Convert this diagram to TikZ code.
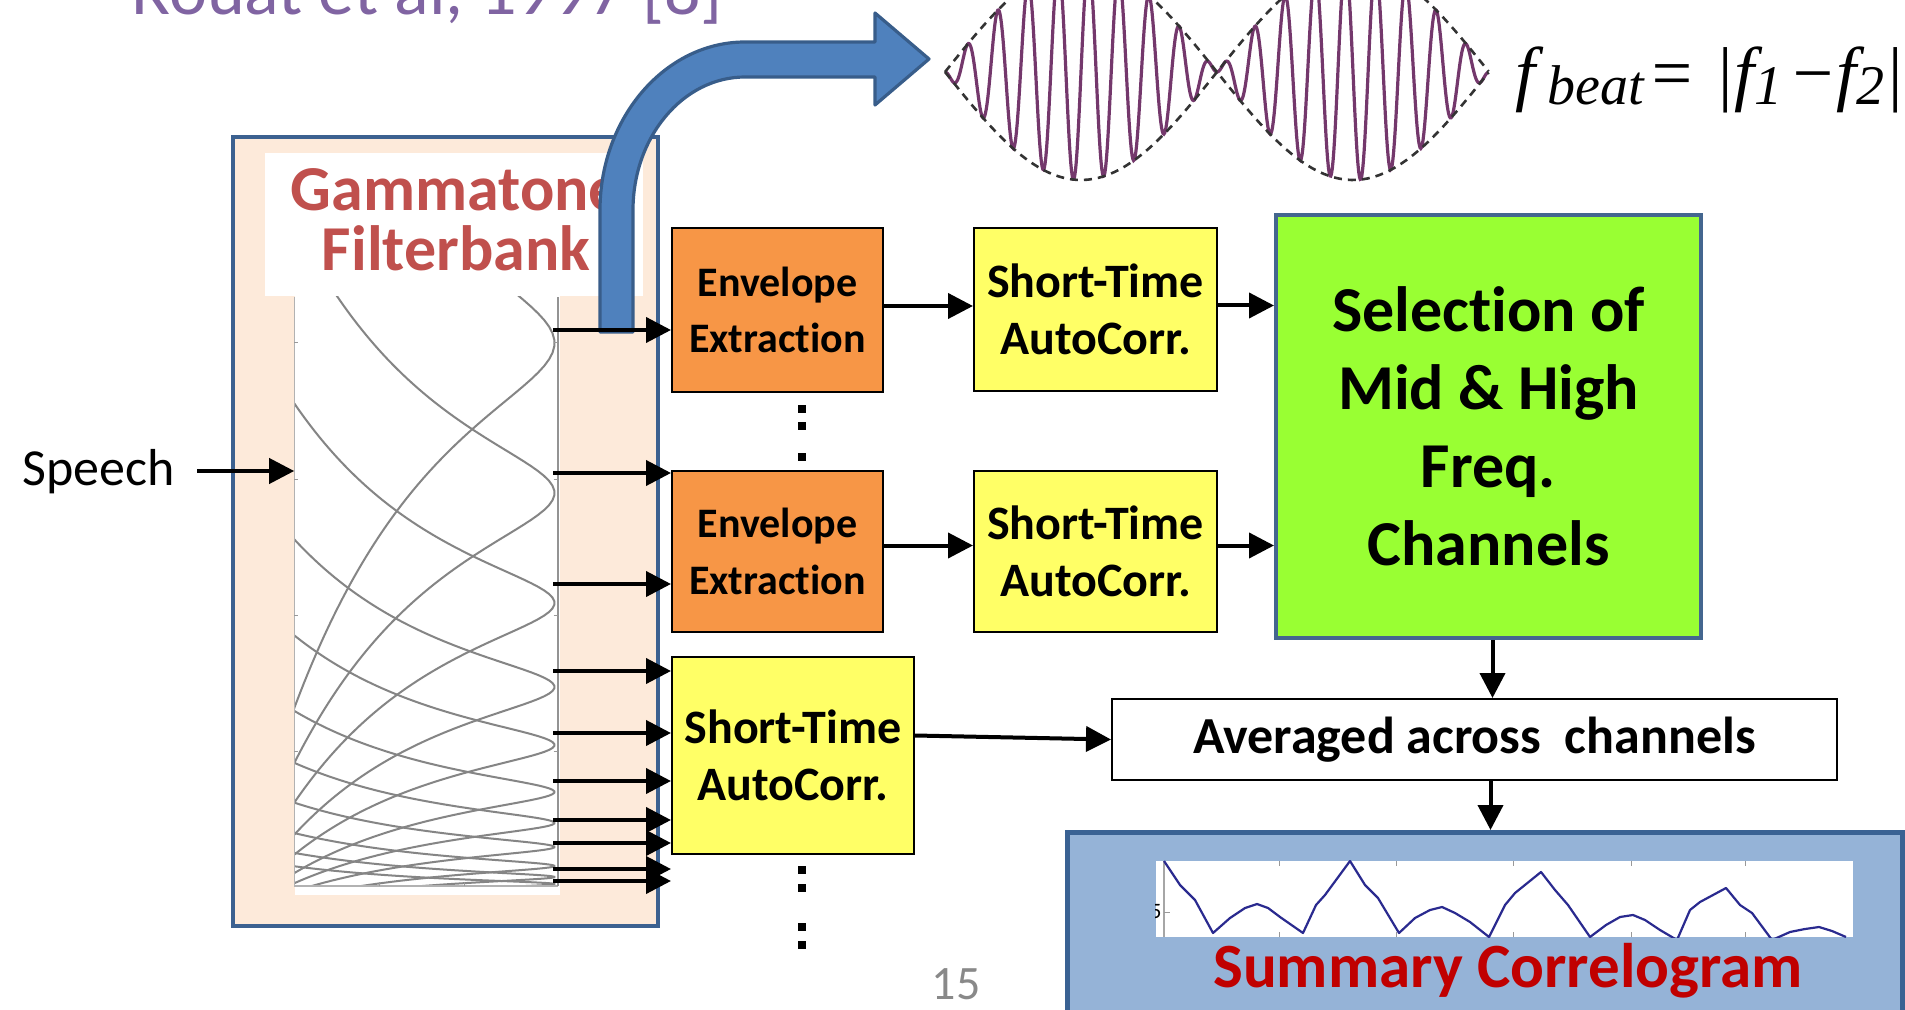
\documentclass[tikz,border=0pt]{standalone}
\usepackage{fontspec}
\setmainfont{Carlito}[Ligatures=NoCommon]
\newfontfamily\serifit{Liberation Serif}
\usetikzlibrary{arrows.meta,calc}

\definecolor{fbfill}{HTML}{FDEADA}
\definecolor{fbline}{HTML}{3C6190}
\definecolor{gammared}{HTML}{C0504D}
\definecolor{envorange}{HTML}{F79646}
\definecolor{styellow}{HTML}{FFFF66}
\definecolor{selgreen}{HTML}{99FF33}
\definecolor{selline}{HTML}{44668F}
\definecolor{sumfill}{HTML}{95B3D7}
\definecolor{sumline}{HTML}{3A6293}
\definecolor{sumred}{HTML}{C00000}
\definecolor{bigblue}{HTML}{4F81BD}
\definecolor{bigblueline}{HTML}{385D8A}
\definecolor{wavepurple}{HTML}{74386C}
\definecolor{titlepurple}{HTML}{8064A2}
\definecolor{corrblue}{HTML}{2A2A8F}
\definecolor{curvegray}{HTML}{858585}
\definecolor{pagegray}{HTML}{898989}

\begin{document}
\begin{tikzpicture}[x=0.5pt, y=-0.5pt,
  sized/.style 2 args={minimum width=#1*0.5pt, minimum height=#2*0.5pt},
  box/.style={inner sep=0pt, align=center},
  envbox/.style={box, draw=black, line width=1pt, fill=envorange,
    font=\bfseries\fontsize{21}{28.4}\selectfont},
  stbox/.style={envbox, fill=styellow, font=\bfseries\fontsize{24}{28.4}\selectfont},
  arr/.style={-{Triangle[length=12.5pt,width=12.5pt]}, line width=2pt},
  fcurve/.style={draw=curvegray, line width=1pt},
  dotsq/.style={fill=black, inner sep=0pt, minimum size=4pt},
  tick/.style={draw=gray!80, line width=0.5pt},
]
\useasboundingbox (0,0) rectangle (1905,1010);

% title (partly above the page edge)
\node[anchor=base west, inner sep=0pt, text=titlepurple,
      font=\fontsize{36}{42}\selectfont] (title) at (131,15) {Rouat et al, 1997 [8]};

% ---------------- gammatone filterbank ----------------
\node[box, draw=fbline, line width=2pt, fill=fbfill, sized={425}{789}] (fb) at (445.5,531.5) {};
\node[box, fill=white, sized={378}{143.4}] (fblabel) at (453.6,224.3) {};
\node[anchor=base, inner sep=0pt, text=gammared, font=\bfseries\fontsize{32}{38}\selectfont]
  (gt1) at (456,211) {Gammatone};
\node[anchor=base, inner sep=0pt, text=gammared, font=\bfseries\fontsize{32}{38}\selectfont]
  (gt2) at (456,270.5) {Filterbank};
\node[box, fill=white, sized={265.4}{599}] (plot) at (427.3,595.5) {};

\coordinate (axSW) at (294.3,886);
\coordinate (axNE) at (557.7,297);
\begin{scope}
  \clip (axSW) rectangle (axNE);
  \foreach \yc/\bw in {343/57.6, 493/42.6, 603/31.5, 687/23.3, 745/17.3, 792/12.8,
                       823/9.5, 847/7.0, 866/5.2, 877/3.8, 884/2.8}
    \draw[fcurve] plot[domain=-6.8:6.8, samples=120, variable=\t]
      ({554.5-70*ln(1+\t*\t)}, {\yc+\bw*\t});
\end{scope}
\draw[draw=gray!60, line width=0.6pt] (294.3,297) -- (axSW) -- (557.7,886);
\draw[draw=gray!85, line width=0.9pt] (557.7,886) -- (axNE);
\foreach \ty in {343,479,615,751} {
  \draw[tick] (294.3,\ty) -- (298.3,\ty);
  \draw[tick] (553.7,\ty) -- (557.7,\ty);
}
\foreach \tx in {379,464} \draw[tick] (\tx,886) -- (\tx,882);

% big curved arrow towards the beat waveform
\draw[fill=bigblue, draw=bigblueline, line width=1.6pt, line join=round]
  (633,332) -- (633,210) .. controls (633,137) and (683,77) .. (745,77)
  -- (875,77) -- (875,105) -- (929,59) -- (875,13) -- (875,42) -- (745,42)
  .. controls (665,42) and (600,118) .. (600,210) -- (600,332) -- cycle;

% beat waveform
\draw[wavepurple, line width=1.6pt] plot[domain=0:2, samples=700, variable=\u]
  ({945+272*\u}, {72+108*sin(180*\u)*sin(3240*\u)});
\draw[black!80, line width=1.3pt, dash pattern=on 4pt off 3pt]
  plot[domain=0:2, samples=100, variable=\u] ({945+272*\u}, {72+108*sin(180*\u)});
\draw[black!80, line width=1.3pt, dash pattern=on 4pt off 3pt]
  plot[domain=0:2, samples=100, variable=\u] ({945+272*\u}, {72-108*sin(180*\u)});
\node[anchor=base west, inner sep=0pt, font=\serifit\itshape\fontsize{36}{42}\selectfont]
  (fbeat) at (1515,98)
  {f\kern6pt\raisebox{-3.5pt}{\fontsize{28}{32}\selectfont beat}\kern2pt= |f\raisebox{-3.5pt}{\fontsize{28}{32}\selectfont 1}\kern3pt−f\raisebox{-3.5pt}{\fontsize{28}{32}\selectfont 2}|};

% ---------------- processing blocks ----------------
\node[envbox, sized={211}{164}] (env1) at (777.5,310) {Envelope\\Extraction};
\node[envbox, sized={211}{161}] (env2) at (777.5,551.5) {Envelope\\Extraction};
\node[stbox, sized={243}{163}] (st1) at (1095.5,309.5) {Short-Time\\AutoCorr.};
\node[stbox, sized={243}{161}] (st2) at (1095.5,551.5) {Short-Time\\AutoCorr.};
\node[stbox, sized={242}{197}] (st3) at (793,755.5) {Short-Time\\AutoCorr.};
\node[box, draw=selline, line width=2pt, fill=selgreen, sized={425}{423},
      font=\bfseries\fontsize{32}{39}\selectfont] (sel) at (1488.5,426.5)
  {Selection of\\Mid \& High\\Freq.\\Channels};
\node[box, draw=black, line width=1pt, fill=white, sized={725}{81},
      font=\bfseries\fontsize{26}{31}\selectfont] (avg) at (1474.5,739.5)
  {Averaged across\ \ channels};

% summary correlogram panel
\node[box, draw=sumline, line width=2.5pt, fill=sumfill, sized={835}{240}, anchor=north west]
  (summ) at (1065,830) {};
\node[box, fill=white, sized={697}{76}] (corr) at (1504.5,899) {};
\begin{scope}
  \clip (corr.south west) rectangle (corr.north east);
  \node[anchor=east, inner sep=0pt, font=\fontsize{11}{13}\selectfont] (five) at (1162,912) {5};
  \draw[draw=gray!70, line width=0.6pt] (1164,861) -- (1164,937);
  \draw[tick] (1164,912) -- (1170,912);
  \foreach \tx in {1279,1396,1513,1631,1745} {
    \draw[tick] (\tx,861) -- (\tx,866);
    \draw[tick] (\tx,937) -- (\tx,932);
  }
  \draw[corrblue, line width=1.1pt, line join=round] plot coordinates {
    (1164,861) (1180,885) (1195,900) (1213,933) (1230,918) (1245,908) (1257,904)
    (1268,908) (1280,917) (1303,933) (1316,905) (1325,895) (1350,861) (1365,885)
    (1378,898) (1399,933) (1415,918) (1430,910) (1442,907) (1455,913) (1470,922)
    (1489,937) (1505,905) (1515,893) (1541,872) (1555,890) (1568,905) (1590,937)
    (1606,925) (1620,917) (1633,915) (1645,920) (1660,930) (1677,940) (1690,910)
    (1700,902) (1726,888) (1740,905) (1752,913) (1772,940) (1790,932) (1805,929)
    (1819,927) (1832,931) (1846,937)};
\end{scope}
\node[anchor=base, inner sep=0pt, text=sumred, font=\bfseries\fontsize{31.5}{37}\selectfont]
  (sumtxt) at (1508,987) {Summary Correlogram};

% ellipsis marks between channels
\node[dotsq] (d1) at (802,409) {};
\node[dotsq] (d2) at (802,426) {};
\node[dotsq] (d3) at (802,457) {};
\node[dotsq] (d4) at (802,870) {};
\node[dotsq] (d5) at (802,888) {};
\node[dotsq] (d6) at (802,927) {};
\node[dotsq] (d7) at (802,945) {};

% speech input
\node[anchor=base west, inner sep=0pt, font=\fontsize{26}{31}\selectfont] (speech) at (22,485) {Speech};
\coordinate (spin) at (197,471);
\draw[arr] (spin) -- (spin -| plot.west);

% filterbank outputs
\coordinate (o1) at (553,330);
\coordinate (o2) at (553,473);
\coordinate (o3) at (553,584);
\coordinate (o4) at (553,671);
\coordinate (o5) at (553,733);
\coordinate (o6) at (553,781);
\coordinate (o7) at (553,820);
\coordinate (o8) at (553,843);
\coordinate (o9) at (553,869);
\coordinate (o10) at (553,881);
\draw[arr] (o1) -- (o1 -| env1.west);
\draw[arr] (o2) -- (o2 -| env2.west);
\draw[arr] (o3) -- (o3 -| env2.west);
\foreach \o in {o4,o5,o6,o7,o8,o9,o10}
  \draw[arr] (\o) -- (\o -| st3.west);

% block connections
\draw[arr] ([yshift=2pt]env1.east) -- ([yshift=2pt]env1.east -| st1.west);
\draw[arr] ([yshift=3pt]env2.east) -- ([yshift=3pt]env2.east -| st2.west);
\draw[arr] ([yshift=2pt]st1.east) -- ([yshift=2pt]st1.east -| sel.west);
\draw[arr] ([yshift=3pt]st2.east) -- ([yshift=3pt]st2.east -| sel.west);
\draw[arr] ([yshift=10pt]st3.east) -- (avg.west);
\draw[arr] ([xshift=2pt]sel.south) -- ([xshift=2pt]sel.south |- avg.north);
\draw[arr] ([xshift=8pt]avg.south) -- ([xshift=8pt]avg.south |- summ.north);

% slide number
\node[text=pagegray, inner sep=0pt, font=\fontsize{24}{28}\selectfont] (pg) at (956,984) {15};
\end{tikzpicture}
\end{document}
